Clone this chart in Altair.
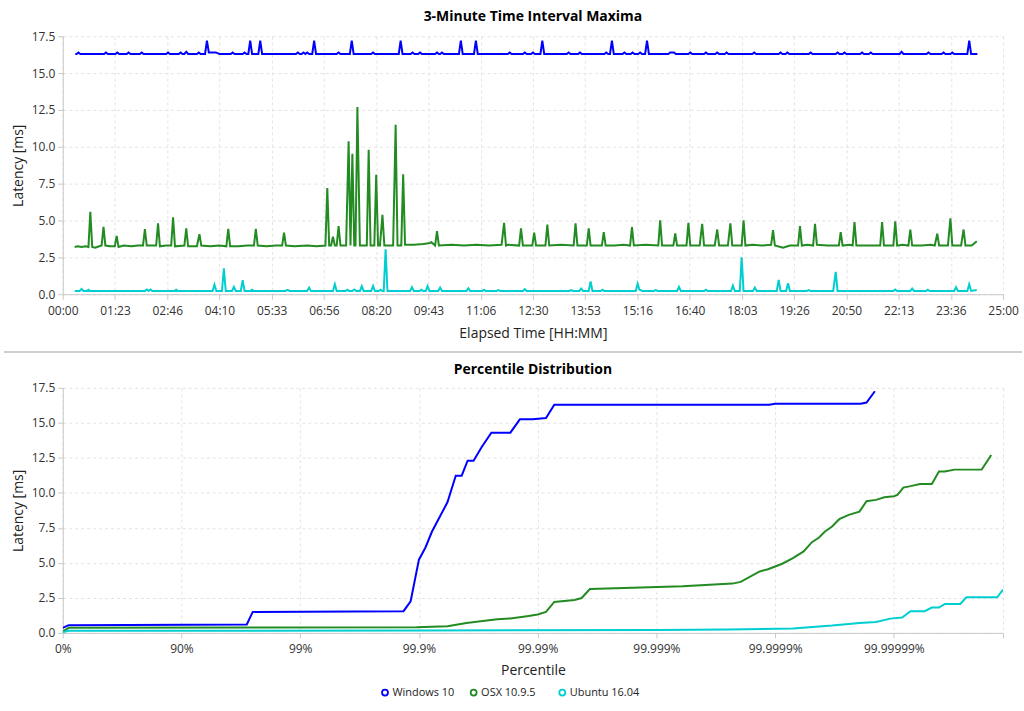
import altair as alt
import pandas as pd

SERIES = ["Windows 10", "OSX 10.9.5", "Ubuntu 16.04"]
COLORS = ["#0000ff", "#228b22", "#00ced1"]

# ---------- top panel: 3-minute interval maxima (minutes, ms) ----------
win_t = [20, 22, 25, 28, 66, 69, 72, 84, 87, 90, 102, 105, 108, 123, 126, 129, 165, 168, 171,
         185, 188, 191, 194, 197, 200, 214, 217, 220, 227, 230, 233, 244, 250, 268, 271, 274,
         287, 290, 293, 296, 299, 302, 312, 315, 318, 372, 375, 378, 381, 384, 387, 390, 393,
         398, 401, 404, 437, 440, 443, 458, 461, 464, 492, 495, 498, 536, 539, 542, 555, 558, 561,
         567, 570, 573, 594, 597, 600, 602, 605, 608, 632, 635, 638, 656, 659, 662, 710, 713, 716,
         734, 737, 740, 747, 750, 753, 762, 765, 768, 804, 807, 810, 822, 825, 828, 864, 867, 870,
         873, 876, 879, 893, 896, 899, 906, 909, 912, 918, 921, 924, 929, 932, 935, 966, 969, 975,
         978, 998, 1001, 1004, 1023, 1026, 1029, 1041, 1044, 1047, 1056, 1059, 1062, 1100, 1103,
         1106, 1142, 1145, 1148, 1153, 1156, 1159, 1190, 1193, 1196, 1233, 1236, 1239, 1244, 1247,
         1250, 1272, 1275, 1278, 1286, 1289, 1292, 1335, 1338, 1341, 1378, 1381, 1384, 1402, 1405,
         1408, 1416, 1419, 1422, 1443, 1446, 1449, 1459]
win_v = [16.3, 16.3, 16.4, 16.3, 16.3, 16.4, 16.3, 16.3, 16.4, 16.3, 16.3, 16.4, 16.3, 16.3, 16.4, 16.3, 16.3, 16.4, 16.3,
         16.3, 16.4, 16.3, 16.3, 16.45, 16.3, 16.3, 16.4, 16.3, 16.3, 17.2, 16.4, 16.4, 16.3, 16.3, 16.4, 16.3,
         16.3, 16.4, 16.3, 16.3, 17.2, 16.3, 16.3, 17.2, 16.3, 16.3, 16.4, 16.3, 16.3, 16.4, 16.3, 16.4, 16.3,
         16.3, 17.2, 16.3, 16.3, 16.4, 16.3, 16.3, 17.2, 16.3, 16.3, 16.4, 16.3, 16.3, 17.2, 16.3, 16.3, 16.4, 16.3,
         16.3, 16.4, 16.3, 16.3, 16.4, 16.3, 16.3, 16.4, 16.3, 16.3, 17.2, 16.3, 16.3, 17.2, 16.3, 16.3, 16.4, 16.3,
         16.3, 16.4, 16.3, 16.3, 16.4, 16.3, 16.3, 17.2, 16.3, 16.3, 16.4, 16.3, 16.3, 16.4, 16.3, 16.3, 16.4, 16.3,
         16.3, 17.2, 16.3, 16.3, 16.4, 16.3, 16.3, 16.4, 16.3, 16.3, 16.4, 16.3, 16.3, 17.2, 16.3, 16.3, 16.4, 16.4,
         16.3, 16.3, 16.4, 16.3, 16.3, 16.4, 16.3, 16.3, 16.4, 16.3, 16.3, 16.4, 16.3, 16.3, 16.4,
         16.3, 16.3, 16.4, 16.3, 16.3, 16.4, 16.3, 16.3, 16.4, 16.3, 16.3, 16.4, 16.3, 16.3, 16.4,
         16.3, 16.3, 16.4, 16.3, 16.3, 16.4, 16.3, 16.3, 16.45, 16.3, 16.3, 16.4, 16.3, 16.3, 16.4,
         16.3, 16.3, 16.4, 16.3, 16.3, 17.2, 16.3, 16.3]

osx_t = [19, 24, 30, 36, 41, 44, 47, 52, 58, 62, 65, 68, 75, 83, 86, 89, 97, 110, 120, 128, 131, 134,
         149, 152, 155, 165, 173, 176, 179, 194, 197, 200, 214, 218, 221, 235, 250, 261, 264, 267,
         280, 295, 305, 308, 311, 325, 340, 350, 353, 356, 370, 390, 405, 419, 422, 425, 428, 431, 434,
         437, 440, 443, 446, 452, 456, 459, 462, 465, 467, 470, 474, 477, 485, 488, 491, 497, 500, 503,
         506, 510, 513, 527, 531, 534, 540, 543, 546, 560, 575, 584, 588, 594, 597, 600, 620, 640, 660,
         680, 700, 704, 707, 710, 728, 731, 734, 749, 752, 755, 770, 773, 776, 795, 815, 818, 821, 836,
         839, 842, 860, 863, 866, 880, 895, 905, 908, 911, 930, 950, 953, 956, 974, 977, 980, 995, 998,
         1001, 1016, 1020, 1023, 1040, 1044, 1047, 1061, 1065, 1068, 1083, 1086, 1089, 1100, 1115, 1130,
         1133, 1136, 1149, 1160, 1173, 1176, 1179, 1188, 1197, 1200, 1203, 1220, 1238, 1241, 1244, 1255,
         1260, 1263, 1266, 1285, 1304, 1307, 1310, 1325, 1328, 1331, 1340, 1349, 1352, 1355, 1370, 1385,
         1391, 1395, 1398, 1412, 1416, 1419, 1433, 1437, 1440, 1450, 1458]
osx_v = [3.2, 3.25, 3.2, 3.25, 3.2, 5.59, 3.2, 3.15, 3.25, 3.3, 4.57, 3.3, 3.25, 3.25, 3.96, 3.2, 3.3, 3.25, 3.3, 3.3, 4.41, 3.3,
         3.3, 4.8, 3.25, 3.3, 3.3, 5.22, 3.25, 3.3, 4.46, 3.25, 3.25, 4.07, 3.3, 3.25, 3.3, 3.25, 4.44, 3.25,
         3.25, 3.3, 3.3, 4.44, 3.3, 3.25, 3.3, 3.3, 4.17, 3.3, 3.25, 3.3, 3.25, 3.3, 7.21, 3.3, 3.3, 3.9, 3.3,
         3.3, 4.62, 3.3, 3.3, 3.3, 10.38, 3.3, 9.53, 3.3, 3.3, 12.7, 3.3, 3.3, 3.3, 9.8, 3.3, 3.3, 8.1, 3.3,
         3.3, 5.38, 3.3, 3.3, 11.5, 3.3, 3.3, 8.13, 3.35, 3.35, 3.4, 3.45, 3.53, 3.3, 4.28, 3.3, 3.35, 3.3, 3.35,
         3.3, 3.35, 4.84, 3.3, 3.35, 3.3, 4.46, 3.3, 3.3, 4.17, 3.3, 3.3, 4.73, 3.3, 3.35, 3.3, 4.8, 3.3, 3.3,
         4.46, 3.3, 3.3, 4.21, 3.3, 3.3, 3.35, 3.3, 4.55, 3.3, 3.35, 3.3, 5.02, 3.3, 3.3, 4.12, 3.3, 3.3, 4.84,
         3.3, 3.3, 4.78, 3.3, 3.3, 4.39, 3.3, 3.3, 4.8, 3.3, 3.3, 5.02, 3.3, 3.35, 3.3, 3.35,
         4.35, 3.3, 3.15, 3.3, 3.3, 4.62, 3.3, 3.35, 3.3, 4.78, 3.35, 3.3, 3.3, 4.21, 3.3, 3.35,
         3.3, 4.89, 3.3, 3.3, 3.3, 4.89, 3.3, 3.3, 4.95, 3.3, 3.35, 3.3, 4.39, 3.3, 3.3, 3.35,
         3.3, 4.1, 3.3, 3.3, 5.14, 3.3, 3.3, 4.39, 3.3, 3.3, 3.6]

ubu_t = [19, 27, 30, 33, 38, 41, 44, 100, 131, 134, 137, 140, 143, 178, 181, 184, 239, 242, 245, 254, 257, 260,
         270, 273, 276, 284, 287, 290, 299, 302, 305, 355, 359, 362, 390, 393, 396, 431, 434, 437, 451, 454,
         457, 462, 465, 468, 474, 477, 480, 492, 495, 498, 504, 507, 510, 512, 515, 518, 554, 557, 560, 569, 572,
         575, 579, 582, 585, 599, 602, 605, 644, 647, 650, 669, 672, 675, 692, 695, 698, 734, 737, 740, 808,
         811, 814, 824, 827, 830, 839, 842, 845, 858, 861, 864, 914, 917, 920, 925, 943, 946, 949, 980, 983,
         986, 1023, 1026, 1029, 1066, 1069, 1072, 1080, 1083, 1086, 1101, 1104, 1107, 1139, 1142, 1145, 1154, 1157,
         1160, 1187, 1190, 1193, 1229, 1233, 1236, 1325, 1328, 1331, 1352, 1355, 1358, 1377, 1380, 1383, 1422,
         1425, 1428, 1443, 1446, 1449, 1458]
ubu_v = [0.22, 0.22, 0.36, 0.22, 0.22, 0.3, 0.22, 0.22, 0.22, 0.32, 0.22, 0.32, 0.22, 0.22, 0.3, 0.22, 0.22, 0.65, 0.22, 0.22, 1.76, 0.22,
         0.22, 0.5, 0.22, 0.22, 0.95, 0.22, 0.22, 0.3, 0.22, 0.22, 0.3, 0.22, 0.22, 0.45, 0.22, 0.22, 0.68, 0.22, 0.22, 0.3,
         0.22, 0.22, 0.32, 0.22, 0.22, 0.54, 0.22, 0.22, 0.55, 0.22, 0.22, 0.3, 0.22, 0.22, 3.04, 0.22, 0.22, 0.47, 0.22, 0.22, 0.3,
         0.22, 0.22, 0.56, 0.22, 0.22, 0.45, 0.22, 0.22, 0.4, 0.22, 0.22, 0.3, 0.22, 0.22, 0.28, 0.22, 0.22, 0.35, 0.22, 0.22,
         0.28, 0.22, 0.22, 0.38, 0.22, 0.22, 0.86, 0.22, 0.22, 0.3, 0.22, 0.22, 0.72, 0.3, 0.22, 0.22, 0.28, 0.22, 0.22, 0.5,
         0.22, 0.22, 0.3, 0.22, 0.22, 0.59, 0.22, 0.22, 2.5, 0.22, 0.22, 0.45, 0.22, 0.22, 0.97, 0.22, 0.22, 0.74,
         0.22, 0.22, 0.28, 0.22, 0.22, 1.51, 0.22, 0.22, 0.32, 0.22, 0.22, 0.38, 0.22, 0.22, 0.3, 0.22, 0.22,
         0.48, 0.22, 0.22, 0.68, 0.22, 0.28]

# ---------- bottom panel: percentile distribution ----------
# x is the number of nines of the percentile: 0 -> 0%, 1 -> 90%, 2 -> 99% ...
win_n = [0, 0.05, 1.55, 1.60, 2.87, 2.93, 3.0, 3.055, 3.11, 3.24, 3.31, 3.36, 3.41, 3.46, 3.53, 3.61, 3.77,
         3.85, 3.96, 4.07, 4.14, 5.95, 6.0, 6.72, 6.77, 6.84]
win_p = [0.36, 0.55, 0.6, 1.5, 1.55, 2.26, 5.23, 6.1, 7.24, 9.33, 11.23, 11.23, 12.3, 12.3, 13.3, 14.3, 14.3,
         15.25, 15.25, 15.34, 16.3, 16.3, 16.37, 16.37, 16.45, 17.26]
osx_n = [0, 0.05, 2.98, 3.24, 3.4, 3.52, 3.66, 3.77, 3.91, 4.0, 4.07, 4.14, 4.31, 4.37, 4.44, 4.8, 5.22, 5.64,
         5.71, 5.87, 5.94, 6.06, 6.15, 6.24, 6.31, 6.37, 6.42, 6.48, 6.54, 6.62, 6.71, 6.77, 6.85, 6.92, 7.0,
         7.03, 7.08, 7.14, 7.22, 7.32, 7.38, 7.43, 7.51, 7.74, 7.82]
osx_p = [0.1, 0.36, 0.4, 0.47, 0.71, 0.83, 0.98, 1.03, 1.19, 1.31, 1.5, 2.21, 2.35, 2.49, 3.13, 3.23, 3.33, 3.52,
         3.64, 4.39, 4.55, 4.94, 5.34, 5.82, 6.48, 6.81, 7.24, 7.6, 8.12, 8.43, 8.66, 9.4, 9.5, 9.68, 9.76,
         9.85, 10.38, 10.48, 10.64, 10.64, 11.52, 11.52, 11.66, 11.66, 12.7]
ubu_n = [0, 0.05, 3.0, 5.0, 5.6, 6.15, 6.48, 6.71, 6.85, 6.97, 7.07, 7.14, 7.26, 7.32, 7.38, 7.43, 7.56, 7.61,
         7.87, 7.92]
ubu_p = [0.05, 0.15, 0.17, 0.2, 0.24, 0.31, 0.52, 0.71, 0.78, 1.02, 1.1, 1.55, 1.55, 1.81, 1.81, 2.07, 2.07,
         2.54, 2.54, 3.09]

TIME_TICKS = [0, 83.333, 166.667, 250, 333.333, 416.667, 500, 583.333, 666.667, 750, 833.333, 916.667,
              1000, 1083.333, 1166.667, 1250, 1333.333, 1416.667, 1500]
TIME_LABELS = ["00:00", "01:23", "02:46", "04:10", "05:33", "06:56", "08:20", "09:43", "11:06", "12:30",
               "13:53", "15:16", "16:40", "18:03", "19:26", "20:50", "22:13", "23:36", "25:00"]
PCT_TICKS = [0, 1, 2, 3, 4, 5, 6, 7, 7.92]
PCT_LABELS = ["0%", "90%", "99%", "99.9%", "99.99%", "99.999%", "99.9999%", "99.99999%", ""]
Y_TICKS = [0, 2.5, 5, 7.5, 10, 12.5, 15, 17.5]

FONT = "Open Sans"

rows = []
for name, ts, vs in zip(SERIES, [win_t, osx_t, ubu_t], [win_v, osx_v, ubu_v]):
    for i, (t, v) in enumerate(zip(ts, vs)):
        rows.append({"series": name, "t": t, "v": v, "o": i})
top_df = pd.DataFrame(rows)

rows = []
for name, ns, ps in zip(SERIES, [win_n, osx_n, ubu_n], [win_p, osx_p, ubu_p]):
    for i, (n, p) in enumerate(zip(ns, ps)):
        rows.append({"series": name, "n": n, "v": p, "o": i})
bot_df = pd.DataFrame(rows)

color = alt.Color(
    "series:N",
    scale=alt.Scale(domain=SERIES, range=COLORS),
    legend=alt.Legend(
        orient="none", legendX=318, legendY=653, direction="horizontal", title=None,
        symbolType="circle", symbolSize=36, symbolStrokeWidth=1.8, symbolFillColor="white",
        labelFontSize=11, labelFont=FONT, labelColor="#222", columnPadding=4, labelOffset=2,
        gridAlign="all",
    ),
)

time_expr = "[" + ",".join("'%s'" % s for s in TIME_LABELS) + "][round(datum.value*18/1500)]"
pct_expr = "[" + ",".join("'%s'" % s for s in PCT_LABELS) + "][datum.value > 7.5 ? 8 : round(datum.value)]"

yaxis = alt.Axis(values=Y_TICKS, format=".1f", title="Latency [ms]", titlePadding=6, labelPadding=3)

top_line = alt.Chart(top_df).mark_line(strokeWidth=2, clip=True).encode(
    x=alt.X("t:Q", scale=alt.Scale(domain=[0, 1500], nice=False),
            axis=alt.Axis(values=TIME_TICKS, labelExpr=time_expr, title="Elapsed Time [HH:MM]",
                          labelFlush=False, labelOverlap=False, labelPadding=6, titlePadding=10)),
    y=alt.Y("v:Q", scale=alt.Scale(domain=[0, 17.5], nice=False), axis=yaxis),
    color=color,
    order="o:Q",
)
sep = alt.Chart(top_df).mark_rule(color="#d0d0d0", strokeWidth=2).encode(
    x=alt.value(-58), x2=alt.value(963), y=alt.value(317)
)
top = alt.layer(top_line, sep).properties(
    width=944, height=259,
    title=alt.TitleParams("3-Minute Time Interval Maxima", fontSize=14, fontWeight="bold",
                          font=FONT, anchor="middle", offset=6, color="#000"),
)

bottom = alt.Chart(bot_df).mark_line(strokeWidth=2, clip=True).encode(
    x=alt.X("n:Q", scale=alt.Scale(domain=[0, 7.92], nice=False),
            axis=alt.Axis(values=PCT_TICKS, labelExpr=pct_expr, title="Percentile",
                          labelFlush=False, labelOverlap=False, labelPadding=6, titlePadding=9)),
    y=alt.Y("v:Q", scale=alt.Scale(domain=[0, 17.5], nice=False), axis=yaxis),
    color=color,
    order="o:Q",
).properties(
    width=944, height=246,
    title=alt.TitleParams("Percentile Distribution", fontSize=14, fontWeight="bold",
                          font=FONT, anchor="middle", offset=5, color="#000"),
)

chart = alt.vconcat(top, bottom, spacing=8).properties(
    padding={"left": 3, "top": 8, "right": 0, "bottom": 0},
    background="white",
).configure_view(stroke="transparent").configure_axis(
    labelFont=FONT, labelFontSize=12, labelColor="#333",
    titleFont=FONT, titleFontSize=14, titleFontWeight="normal", titleColor="#222",
    gridColor="#e3e3e3", gridDash=[3, 3], domainColor="#c8c8c8", tickColor="#c8c8c8",
    tickSize=5,
)

chart.save("out.html", embed_options={"renderer": "svg", "actions": False})
